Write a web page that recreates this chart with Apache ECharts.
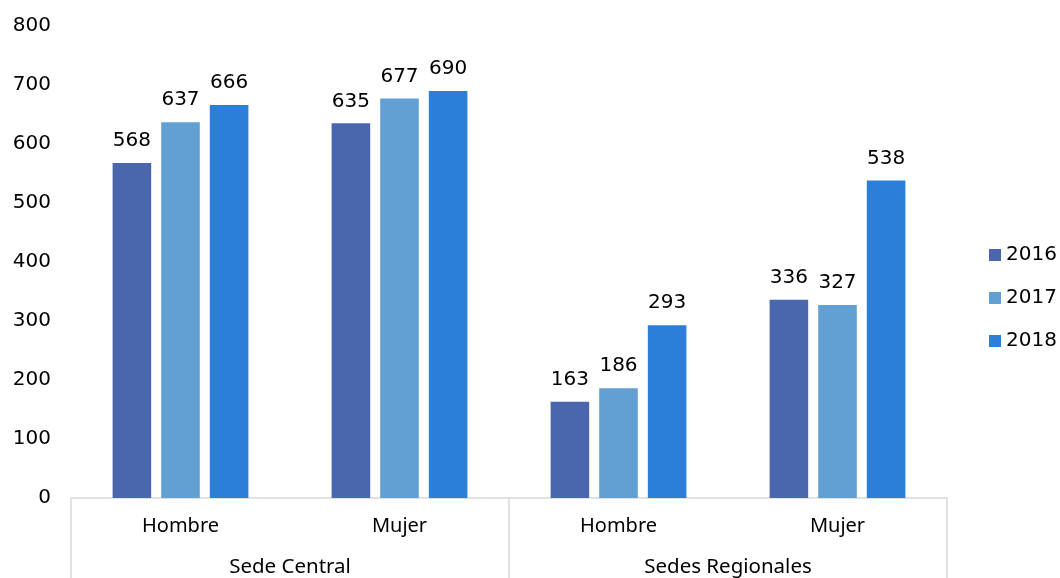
<!DOCTYPE html>
<html><head><meta charset="utf-8">
<script src="https://cdn.jsdelivr.net/npm/echarts@6/dist/echarts.min.js"></script>
<style>html,body{margin:0;padding:0;background:#fff}#c{width:1060px;height:578px}</style>
</head><body><div id="c"></div>
<script>
const categories = ["Hombre", "Mujer", "Hombre", "Mujer"];
const groups = ["Sede Central", "Sedes Regionales"];
const years = ["2016", "2017", "2018"];
const values2016 = [568, 635, 163, 336];
const values2017 = [637, 677, 186, 327];
const values2018 = [666, 690, 293, 538];
const yTicks = { min: 0, max: 800, interval: 100 };

const colors = ["#4a66ad", "#629fd2", "#2c7fd8"];
const FONT = "Noto Sans";
const NUMFONT = "DejaVu Sans";
const chart = echarts.init(document.getElementById('c'));
const seriesData = [values2016, values2017, values2018];
chart.setOption({
  animation: false,
  textStyle: { fontFamily: FONT },
  grid: { left: 71, right: 113, top: 26, bottom: 80 },
  legend: {
    orient: 'vertical', left: 984, top: 240,
    itemWidth: 12, itemHeight: 12, itemGap: 23,
    icon: 'rect',
    textStyle: { fontFamily: NUMFONT, fontSize: 20, color: '#000' },
    data: years
  },
  xAxis: [{
    type: 'category', data: categories, position: 'bottom',
    axisLine: { show: true, lineStyle: { color: '#d9d9d9', width: 1.5 } },
    axisTick: { show: false },
    axisLabel: { color: '#000', fontSize: 20, fontFamily: FONT, margin: 18 }
  }, {
    type: 'category', data: groups, position: 'bottom', offset: 0,
    axisLine: { show: false },
    axisTick: { show: true, length: 80, lineStyle: { color: '#d9d9d9', width: 1.5 } },
    axisLabel: { color: '#000', fontSize: 20.5, fontFamily: FONT, margin: 59 }
  }],
  yAxis: {
    type: 'value', min: yTicks.min, max: yTicks.max, interval: yTicks.interval,
    axisLine: { show: false }, axisTick: { show: false },
    splitLine: { show: false },
    axisLabel: { color: '#000', fontSize: 20, fontFamily: NUMFONT, margin: 20 }
  },
  series: years.map((y, i) => ({
    name: y, type: 'bar', data: seriesData[i], xAxisIndex: 0,
    barGap: '26%', barCategoryGap: '38%',
    itemStyle: { color: colors[i] },
    label: { show: true, position: 'top', distance: 12, color: '#000', fontSize: 20, fontFamily: NUMFONT }
  }))
});
</script></body></html>
